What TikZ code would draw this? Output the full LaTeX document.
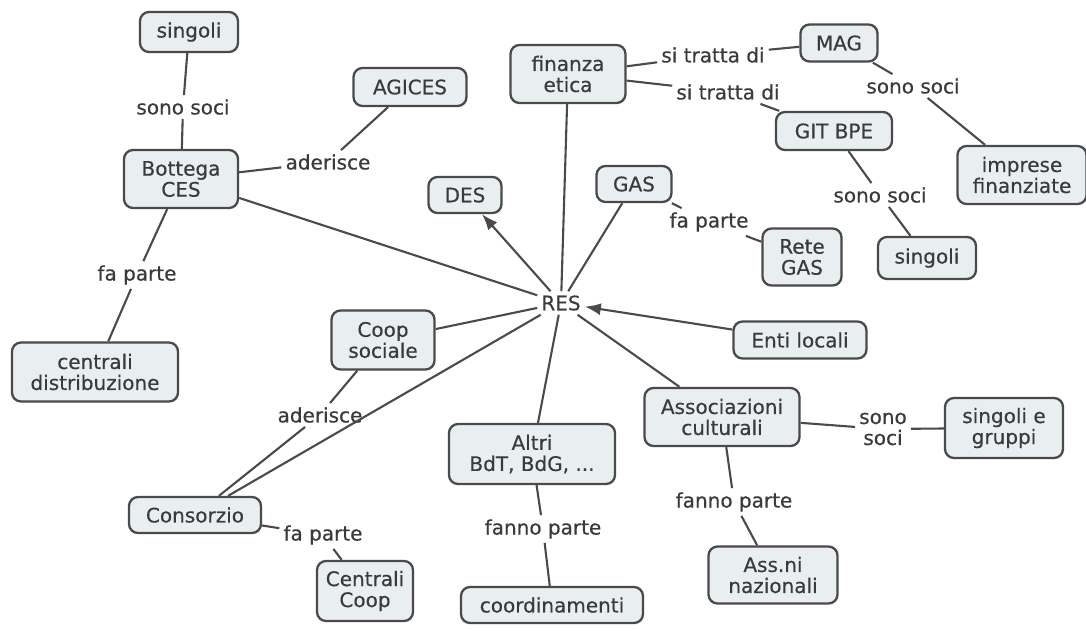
\documentclass[tikz,border=0pt]{standalone}
\usepackage{fontspec}
\setmainfont{DejaVu Sans}[FakeBold=0.4]
\usetikzlibrary{arrows.meta}
\definecolor{boxfill}{HTML}{E9EFF1}
\definecolor{edgecol}{HTML}{4A4A4A}
\definecolor{txtcol}{HTML}{3A3A3A}
\begin{document}
\begin{tikzpicture}[x=1pt,y=-1pt,
  every node/.style={text=txtcol,font=\fontsize{20}{21}\selectfont},
  box/.style={draw=edgecol,line width=2.3pt,rounded corners=9pt,fill=boxfill,align=center,inner sep=2pt},
  lbl/.style={align=center,inner sep=4pt},
  conn/.style={draw=edgecol,line width=2.1pt},
  arr/.style={conn,-{Latex[length=16pt,width=12pt]}}]
\useasboundingbox (0,0) rectangle (1086,630);
\fill[white] (0,0) rectangle (1086,630);
% concepts
\node[box,minimum width=98,minimum height=40] (sing1) at (189,32) {singoli};
\node[box,minimum width=114,minimum height=58] (bott) at (181,179) {Bottega\\CES};
\node[box,minimum width=113,minimum height=38] (agic) at (410,87) {AGICES};
\node[box,minimum width=166,minimum height=59] (cdis) at (95,372) {centrali\\distribuzione};
\node[box,minimum width=115,minimum height=58] (fin) at (568,74) {finanza\\etica};
\node[box,minimum width=77,minimum height=37] (mag) at (839,43) {MAG};
\node[box,minimum width=116,minimum height=38] (git) at (834,131) {GIT BPE};
\node[box,minimum width=129,minimum height=58] (impr) at (1022,175) {imprese\\finanziate};
\node[box,minimum width=98,minimum height=42] (sing2) at (927,258) {singoli};
\node[box,minimum width=73,minimum height=36] (des) at (465,195) {DES};
\node[box,minimum width=75,minimum height=36] (gas) at (634,184) {GAS};
\node[box,minimum width=79,minimum height=57] (rgas) at (802,257) {Rete\\GAS};
\node[lbl] (res) at (561,303) {RES};
\node[box,minimum width=133,minimum height=37] (enti) at (800,340) {Enti locali};
\node[box,minimum width=103,minimum height=59] (coop) at (383,340) {Coop\\sociale};
\node[box,minimum width=132,minimum height=36] (cons) at (195,515) {Consorzio};
\node[box,minimum width=96,minimum height=60] (ccoop) at (365,591) {Centrali\\Coop};
\node[box,minimum width=166,minimum height=60] (altri) at (532,454) {Altri\\BdT, BdG, ...};
\node[box,minimum width=182,minimum height=36] (coord) at (552,605) {coordinamenti};
\node[box,minimum width=155,minimum height=58] (assc) at (722,417) {Associazioni\\culturali};
\node[box,minimum width=129,minimum height=57] (assn) at (773,575) {Ass.ni\\nazionali};
\node[box,minimum width=118,minimum height=60] (sgru) at (1004,428) {singoli e\\gruppi};
% linking phrases
\node[lbl] (l1) at (183,107) {sono soci};
\node[lbl] (l2) at (328,162) {aderisce};
\node[lbl] (l3) at (137,275) {fa parte};
\node[lbl] (l4) at (713,55) {si tratta di};
\node[lbl] (l5) at (728,92) {si tratta di};
\node[lbl] (l6) at (913,86) {sono soci};
\node[lbl] (l7) at (880,195) {sono soci};
\node[lbl] (l8) at (709,222) {fa parte};
\node[lbl] (l9) at (320,415) {aderisce};
\node[lbl] (l10) at (323,535) {fa parte};
\node[lbl] (l11) at (543,529) {fanno parte};
\node[lbl] (l12) at (734,502) {fanno parte};
\node[lbl] (l13) at (883,429) {sono\\soci};
% connectors
\draw[conn] (sing1) -- (l1) -- (bott);
\draw[conn] (bott) -- (l2) -- (agic);
\draw[conn] (bott) -- (l3) -- (cdis);
\draw[conn] (fin) -- (l4) -- (mag);
\draw[conn] (fin) -- (l5) -- (git);
\draw[conn] (mag) -- (l6) -- (impr);
\draw[conn] (git) -- (l7) -- (sing2);
\draw[conn] (gas) -- (l8) -- (rgas);
\draw[conn] (coop) -- (l9) -- (cons);
\draw[conn] (cons) -- (l10) -- (ccoop);
\draw[conn] (altri) -- (l11) -- (coord);
\draw[conn] (assc) -- (l12) -- (assn);
\draw[conn] (assc) -- (l13) -- (sgru);
\draw[arr] (res) -- (des);
\draw[arr] (enti) -- (res);
\draw[conn] (res) -- (fin);
\draw[conn] (res) -- (gas);
\draw[conn] (res) -- (bott);
\draw[conn] (res) -- (coop);
\draw[conn] (res) -- (cons);
\draw[conn] (res) -- (altri);
\draw[conn] (res) -- (assc);
\end{tikzpicture}
\end{document}
